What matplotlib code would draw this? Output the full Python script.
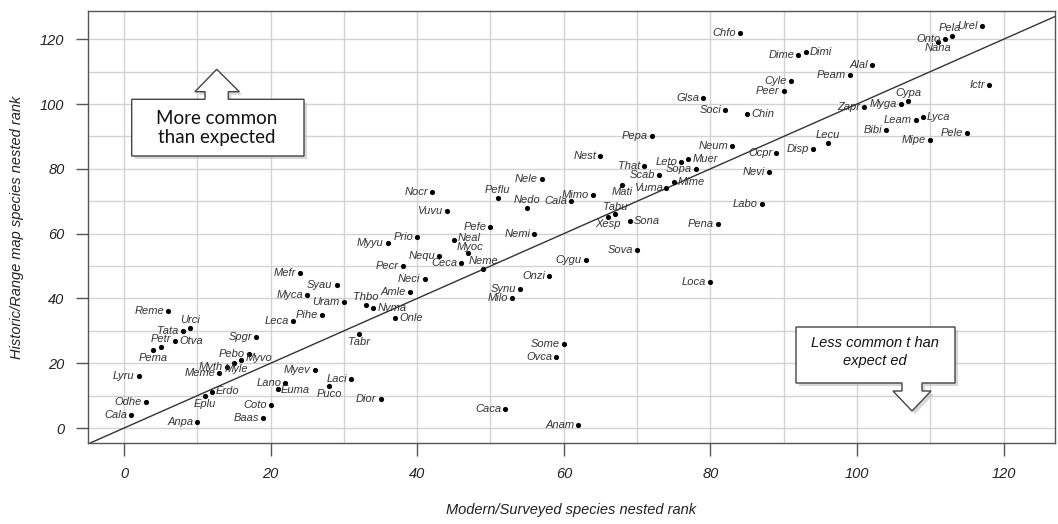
import matplotlib
matplotlib.use("Agg")
import matplotlib.pyplot as plt
from matplotlib.patches import Polygon
from matplotlib.ticker import MultipleLocator

# ---------------- data ----------------
species = ["Reme", "Urci", "Tata", "Petr", "Pema", "Otva", "Lyru", "Odhe", "Cala", "Anpa",
           "Eplu", "Erdo", "Meme", "Myth", "Myle", "Myvo", "Pebo", "Spgr", "Baas", "Coto",
           "Euma", "Lano", "Leca", "Mefr", "Myca", "Myev", "Pihe", "Puco", "Syau", "Uram",
           "Laci", "Tabr", "Thbo", "Nyma", "Dior", "Myyu", "Onle", "Pecr", "Amle", "Prio",
           "Neci", "Nocr", "Nequ", "Vuvu", "Neal", "Ceca", "Myoc", "Neme", "Pefe", "Peflu",
           "Caca", "Milo", "Synu", "Nedo", "Nemi", "Nele", "Onzi", "Ovca", "Some", "Cala",
           "Anam", "Cygu", "Mimo", "Nest", "Xesp", "Tabu", "Mati", "Sona", "Sova", "That",
           "Pepa", "Scab", "Vuma", "Mime", "Leto", "Muer", "Sopa", "Glsa", "Loca", "Pena",
           "Soci", "Neum", "Chfo", "Chin", "Labo", "Nevi", "Ocpr", "Peer", "Cyle", "Dime",
           "Dimi", "Disp", "Lecu", "Peam", "Zapr", "Alal", "Bibi", "Myga", "Cypa", "Leam",
           "Lyca", "Mipe", "Nana", "Onto", "Pela", "Pele", "Urel", "Ictr"]
modern = [6, 9, 8, 5, 4, 7, 2, 3, 1, 10,
          11, 12, 13, 14, 15, 16, 17, 18, 19, 20,
          21, 22, 23, 24, 25, 26, 27, 28, 29, 30,
          31, 32, 33, 34, 35, 36, 37, 38, 39, 40,
          41, 42, 43, 44, 45, 46, 47, 49, 50, 51,
          52, 53, 54, 55, 56, 57, 58, 59, 60, 61,
          62, 63, 64, 65, 66, 67, 68, 69, 70, 71,
          72, 73, 74, 75, 76, 77, 78, 79, 80, 81,
          82, 83, 84, 85, 87, 88, 89, 90, 91, 92,
          93, 94, 96, 99, 101, 102, 104, 106, 107, 108,
          109, 110, 111, 112, 113, 115, 117, 118]
historic = [36, 31, 30, 25, 24, 27, 16, 8, 4, 2,
            10, 11, 17, 19, 20, 21, 23, 28, 3, 7,
            12, 14, 33, 48, 41, 18, 35, 13, 44, 39,
            15, 29, 38, 37, 9, 57, 34, 50, 42, 59,
            46, 73, 53, 67, 58, 51, 54, 49, 62, 71,
            6, 40, 43, 68, 60, 77, 47, 22, 26, 70,
            1, 52, 72, 84, 65, 66, 75, 64, 55, 81,
            90, 78, 74, 76, 82, 83, 80, 102, 45, 63,
            98, 87, 122, 97, 69, 79, 85, 104, 107, 115,
            116, 86, 88, 109, 99, 112, 92, 100, 101, 95,
            96, 89, 119, 120, 121, 91, 124, 106]

x_ticks = [0, 20, 40, 60, 80, 100, 120]
y_ticks = [0, 20, 40, 60, 80, 100, 120]
x_title = "Modern/Surveyed species nested rank"
y_title = "Historic/Range map species nested rank"
note_up = "More common\nthan expected"
note_down = "Less common t han\nexpect ed"

# label placement (style): ha, va, dx, dy in pixels
DEFAULT_PLACE = ("right", "center", -4, 0)
place = {
    "Urci": ("center", "bottom", 0, 3), "Otva": ("left", "center", 4, 0),
    "Petr": ("center", "bottom", 0, 3), "Pema": ("center", "top", 0, -3),
    "Myvo": ("left", "center", 4, 2), "Myle": ("left", "top", -9, -1),
    "Erdo": ("left", "center", 4, 1), "Eplu": ("center", "top", 0, -3),
    "Euma": ("left", "center", 3, -1), "Puco": ("center", "top", 0, -3),
    "Tabr": ("center", "top", 0, -3), "Thbo": ("center", "bottom", 0, 3),
    "Nyma": ("left", "center", 4, 0), "Onle": ("left", "center", 4, 0),
    "Neal": ("left", "center", 4, 2), "Myoc": ("center", "bottom", 2, 1),
    "Neme": ("center", "bottom", 0, 3), "Nedo": ("center", "bottom", 0, 3),
    "Peflu": ("center", "bottom", 0, 3), "Muer": ("left", "center", 4, 0),
    "Mati": ("center", "top", 0, -2), "Mime": ("left", "center", 4, 0),
    "Tabu": ("center", "bottom", 0, 2), "Xesp": ("center", "top", 0, -2),
    "Sona": ("left", "center", 4, 0), "Chin": ("left", "center", 4, 0),
    "Dimi": ("left", "center", 4, 0), "Lecu": ("center", "bottom", 0, 3),
    "Cypa": ("center", "bottom", 0, 3), "Lyca": ("left", "center", 4, 0),
    "Pela": ("center", "bottom", -3, 3), "Nana": ("center", "top", 0, -1),
}

FONT = ["Liberation Sans", "DejaVu Sans"]
W, H = 1058, 524

fig = plt.figure(figsize=(W / 100, H / 100), dpi=100)
fig.patch.set_facecolor("white")
ax = fig.add_axes([88 / W, 1 - 443 / H, 967 / W, 432 / H])

ax.set_xlim(-4.9, 127)
ax.set_ylim(-4.6, 128.7)
ax.xaxis.set_major_locator(plt.FixedLocator(x_ticks))
ax.yaxis.set_major_locator(plt.FixedLocator(y_ticks))
ax.xaxis.set_minor_locator(MultipleLocator(10))
ax.yaxis.set_minor_locator(MultipleLocator(10))
ax.grid(True, which="both", color="#d2d2d2", linewidth=1.0, zorder=0)
ax.set_axisbelow(True)
ax.tick_params(which="major", direction="out", length=9, width=1, color="#555555",
               labelsize=10.5, pad=8, labelcolor="#222222")
ax.tick_params(which="minor", length=0)
for lab in ax.get_xticklabels() + ax.get_yticklabels():
    lab.set_fontstyle("italic")
    lab.set_family(FONT)
for s in ax.spines.values():
    s.set_color("#555555")
    s.set_linewidth(1.0)

# 1:1 line
ax.axline((0, 0), slope=1, color="#333333", linewidth=1.0, zorder=2)

ax.scatter(modern, historic, s=14, color="black", zorder=3, linewidths=0)
for nm, xv, yv in zip(species, modern, historic):
    ha, va, dx, dy = place.get(nm, DEFAULT_PLACE)
    ax.annotate(nm, (xv, yv), xytext=(dx, dy), textcoords="offset pixels",
                ha=ha, va=va, fontsize=8, fontstyle="italic", family=FONT,
                color="#333333", zorder=4)

ax.set_xlabel(x_title, fontsize=10.5, fontstyle="italic", family=FONT, color="#222222")
ax.set_ylabel(y_title, fontsize=10.5, fontstyle="italic", family=FONT, color="#222222")
ax.xaxis.set_label_coords(0.5, -0.14)
ax.yaxis.set_label_coords(-0.066, 0.5)


def fp(px, py):
    return (px / W, 1 - py / H)


def callout(pts, shadow=True):
    if shadow:
        sh = [fp(px + 3, py + 3) for px, py in pts]
        fig.patches.append(Polygon(sh, closed=True, transform=fig.transFigure,
                                   facecolor="#bdbdbd", edgecolor="none", alpha=0.6, zorder=5))
    fig.patches.append(Polygon([fp(px, py) for px, py in pts], closed=True,
                               transform=fig.transFigure, facecolor="white",
                               edgecolor="#444444", linewidth=1.0, zorder=6))


up_pts = [(131.7, 156), (304, 156), (304, 99.3), (228.3, 99.3), (228.3, 91.7),
          (239.3, 91.7), (216.7, 69.3), (195, 91.7), (205, 91.7), (205, 99.3), (131.7, 99.3)]
callout(up_pts)
fig.text(*fp(217, 128), note_up, ha="center", va="center", fontsize=13.5,
         family=["Lato", "DejaVu Sans"], color="#111111", linespacing=1.2, zorder=7)

down_pts = [(796, 327), (955, 327), (955, 383), (922, 383), (922, 391), (931, 391),
            (912, 411), (893, 391), (902, 391), (902, 383), (796, 383)]
callout(down_pts)
fig.text(*fp(875, 352), note_down, ha="center", va="center", fontsize=10.5,
         fontstyle="italic", family=FONT, color="#111111", linespacing=1.35, zorder=7)

fig.savefig("out.png", dpi=100)
